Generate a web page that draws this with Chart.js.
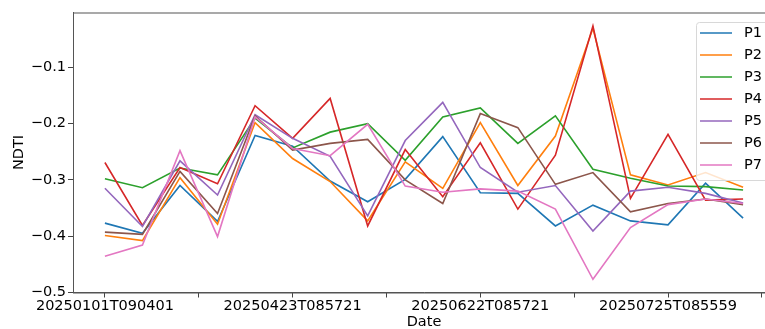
<!DOCTYPE html>
<html>
<head>
<meta charset="utf-8">
<script src="https://cdn.jsdelivr.net/npm/chart.js@4.4.1/dist/chart.umd.min.js"></script>
<style>
    html, body { margin: 0; padding: 0; background: #fff; overflow: hidden; }
    #wrap { width: 765px; height: 329px; overflow: hidden; }
</style>
</head>
<body>
<div id="wrap"><canvas id="ndtiChart" width="800" height="329"></canvas></div>
<script>
// Point index along the date axis (18 acquisitions)
const pointIndex = [0, 1, 2, 3, 4, 5, 6, 7, 8, 9, 10, 11, 12, 13, 14, 15, 16, 17];

// Only these dates are labelled on the axis
const tickIndex = [0, 5, 10, 15];
const tickLabels = ['20250101T090401', '20250423T085721', '20250622T085721', '20250725T085559'];
const xTicks = [0, 2.5, 5, 7.5, 10, 12.5, 15, 17.5];
const yTicks = [-0.5, -0.4, -0.3, -0.2, -0.1];

const seriesNames = ['P1', 'P2', 'P3', 'P4', 'P5', 'P6', 'P7'];
const seriesColors = ['#1f77b4', '#ff7f0e', '#2ca02c', '#d62728', '#9467bd', '#8c564b', '#e377c2'];

const p1 = [-0.377, -0.395, -0.310, -0.374, -0.221, -0.240, -0.302, -0.339, -0.299, -0.223, -0.323, -0.324, -0.382, -0.345, -0.373, -0.380, -0.306, -0.368];
const p2 = [-0.399, -0.408, -0.296, -0.379, -0.198, -0.262, -0.303, -0.373, -0.268, -0.315, -0.198, -0.310, -0.222, -0.030, -0.291, -0.309, -0.287, -0.313];
const p3 = [-0.298, -0.314, -0.279, -0.291, -0.190, -0.243, -0.215, -0.200, -0.265, -0.188, -0.172, -0.235, -0.186, -0.281, -0.297, -0.311, -0.312, -0.318];
const p4 = [-0.269, -0.381, -0.278, -0.307, -0.168, -0.226, -0.155, -0.382, -0.246, -0.330, -0.234, -0.352, -0.256, -0.026, -0.333, -0.219, -0.336, -0.334];
const p5 = [-0.315, -0.383, -0.266, -0.327, -0.184, -0.226, -0.258, -0.364, -0.230, -0.162, -0.278, -0.322, -0.310, -0.391, -0.320, -0.313, -0.324, -0.341];
const p6 = [-0.393, -0.397, -0.285, -0.360, -0.186, -0.247, -0.235, -0.228, -0.300, -0.342, -0.182, -0.207, -0.308, -0.287, -0.357, -0.342, -0.334, -0.344];
const p7 = [-0.436, -0.416, -0.248, -0.401, -0.188, -0.244, -0.257, -0.201, -0.311, -0.322, -0.316, -0.320, -0.352, -0.477, -0.385, -0.344, -0.334, -0.342];

const seriesValues = [p1, p2, p3, p4, p5, p6, p7];

const FONT = 'DejaVu Sans';

// box round the plot + legend in the upper right, matplotlib style
const framePlugin = {
    id: 'frame',
    afterDraw(chart) {
        const ctx = chart.ctx;
        const a = chart.chartArea;
        ctx.save();
        ctx.strokeStyle = '#555';
        ctx.lineWidth = 1;
        ctx.strokeRect(a.left + 0.5, a.top + 0.5, a.right - a.left, a.bottom - a.top);

        // legend
        const x = 696, y = 22, w = 120, h = 158;
        ctx.fillStyle = 'rgba(255,255,255,0.8)';
        ctx.strokeStyle = '#d8d8d8';
        ctx.beginPath();
        ctx.roundRect(x + 0.5, y + 0.5, w, h, 3);
        ctx.fill();
        ctx.stroke();
        ctx.font = '14.5px "' + FONT + '"';
        ctx.textBaseline = 'middle';
        chart.data.datasets.forEach((ds, i) => {
            const ly = y + 11 + i * 22;
            ctx.strokeStyle = ds.borderColor;
            ctx.lineWidth = 1.5;
            ctx.beginPath();
            ctx.moveTo(x + 4, ly);
            ctx.lineTo(x + 36, ly);
            ctx.stroke();
            ctx.fillStyle = '#000';
            ctx.fillText(ds.label, x + 48, ly);
        });
        ctx.restore();
    }
};

const ctx = document.getElementById('ndtiChart').getContext('2d');

new Chart(ctx, {
    type: 'line',
    data: {
        datasets: seriesNames.map((name, i) => ({
            label: name,
            data: pointIndex.map((x, j) => ({ x: x, y: seriesValues[i][j] })),
            borderColor: seriesColors[i],
            backgroundColor: seriesColors[i],
            borderWidth: 1.6,
            pointRadius: 0,
            tension: 0,
            order: seriesNames.length - i
        }))
    },
    options: {
        responsive: false,
        animation: false,
        layout: { padding: { top: 12.5, right: 25, left: 0, bottom: 0 } },
        plugins: {
            legend: { display: false },
            tooltip: { enabled: false }
        },
        scales: {
            x: {
                type: 'linear',
                min: -0.85,
                max: 17.85,
                afterFit: scale => { scale.height = 36.5; },
                afterBuildTicks: scale => { scale.ticks = xTicks.map(v => ({ value: v })); },
                ticks: {
                    autoSkip: false,
                    maxRotation: 0,
                    padding: 0,
                    color: '#000',
                    font: { family: FONT, size: 14.5 },
                    callback: function(value) {
                        const k = tickIndex.indexOf(value);
                        return k >= 0 ? tickLabels[k] : '';
                    }
                },
                grid: { drawOnChartArea: false, drawTicks: true, tickLength: 5, color: '#444' },
                border: { display: true, color: '#555' },
                title: {
                    display: true,
                    text: 'Date',
                    color: '#000',
                    font: { family: FONT, size: 14.5, lineHeight: 1 },
                    padding: { top: 0, bottom: 0 }
                }
            },
            y: {
                type: 'linear',
                min: -0.5005,
                max: -0.002,
                afterFit: scale => { scale.width = 73; },
                afterBuildTicks: scale => { scale.ticks = yTicks.map(v => ({ value: v })); },
                ticks: {
                    padding: 2,
                    color: '#000',
                    font: { family: FONT, size: 14.5 },
                    callback: function(value) {
                        return value.toFixed(1).replace('-', '\u2212');
                    }
                },
                grid: { drawOnChartArea: false, drawTicks: true, tickLength: 5, color: '#444' },
                border: { display: true, color: '#555' },
                title: {
                    display: true,
                    text: 'NDTI',
                    color: '#000',
                    font: { family: FONT, size: 14.5 },
                    padding: { top: 11, bottom: 0 }
                }
            }
        }
    },
    plugins: [framePlugin]
});
</script>
</body>
</html>
